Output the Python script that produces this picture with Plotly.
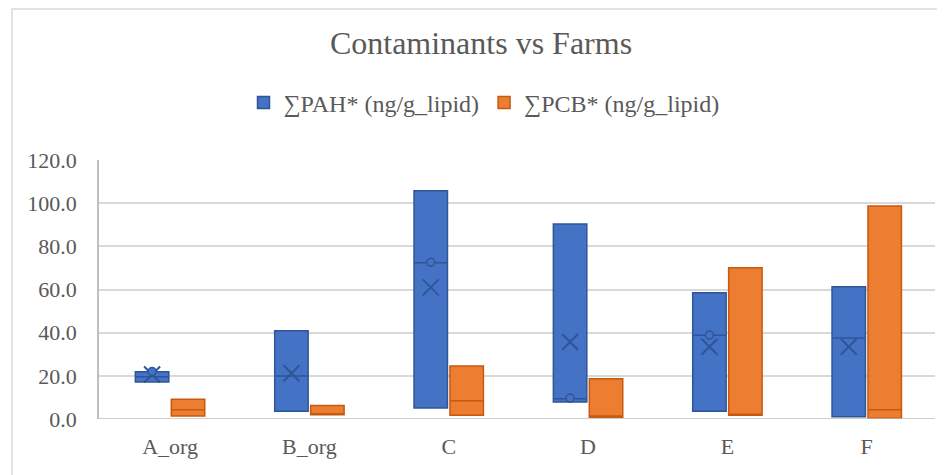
import plotly.graph_objects as go
import numpy as np

farms = ["A_org", "B_org", "C", "D", "E", "F"]
tick_vals = [0, 20, 40, 60, 80, 100, 120]
tick_text = ["0.0", "20.0", "40.0", "60.0", "80.0", "100.0", "120.0"]

# PAH box statistics (ng/g lipid)
pah_q1 = [17.1, 3.6, 5.1, 7.9, 3.6, 1.1]
pah_median = [19.6, 19.9, 72.4, 9.4, 38.8, 37.5]
pah_q3 = [21.9, 40.9, 105.8, 90.4, 58.5, 61.3]
pah_mean = [20.6, 21.2, 61.0, 35.7, 33.5, 33.5]
pah_points_x = ["A_org", "C", "D", "E"]
pah_points_y = [22.0, 72.6, 9.7, 38.9]

# PCB box statistics (ng/g lipid)
pcb_q1 = [1.4, 2.0, 1.7, 0.8, 1.7, 0.3]
pcb_median = [4.3, 2.2, 8.5, 1.4, 2.2, 4.3]
pcb_q3 = [9.1, 6.3, 24.6, 18.7, 70.1, 98.7]

blue_fill = "#4472C4"
blue_line = "#2F5597"
orange_fill = "#ED7D31"
orange_line = "#C55A11"
gray_text = "#595959"
serif = "Liberation Serif, Times New Roman, serif"

idx = np.arange(len(farms))
off = 0.129
pah_x = idx - off
pcb_x = idx + off
pt_idx = np.array([farms.index(f) for f in pah_points_x]) - off

fig = go.Figure()
fig.add_trace(go.Box(
    name="∑PAH* (ng/g_lipid)", x=pah_x, q1=pah_q1, median=pah_median, q3=pah_q3,
    lowerfence=pah_q1, upperfence=pah_q3, width=0.24, whiskerwidth=0,
    fillcolor=blue_fill, line=dict(color=blue_line, width=1.5),
    boxpoints=False, hoverinfo="skip",
))
fig.add_trace(go.Box(
    name="∑PCB* (ng/g_lipid)", x=pcb_x, q1=pcb_q1, median=pcb_median, q3=pcb_q3,
    lowerfence=pcb_q1, upperfence=pcb_q3, width=0.24, whiskerwidth=0,
    fillcolor=orange_fill, line=dict(color=orange_line, width=1.5),
    boxpoints=False, hoverinfo="skip",
))
fig.add_trace(go.Scatter(
    x=pah_x, y=pah_mean, mode="markers", showlegend=False, hoverinfo="skip",
    marker=dict(symbol="x-thin-open", size=16, line=dict(color=blue_line, width=2), color=blue_line),
))
fig.add_trace(go.Scatter(
    x=pt_idx, y=pah_points_y, mode="markers", showlegend=False, hoverinfo="skip",
    marker=dict(symbol="circle", size=8, color=blue_fill, line=dict(color=blue_line, width=1.5)),
))

# page body has an 8px margin, so the figure is 8px smaller and offset
OFF = 8
W, H = 945 - OFF, 475 - OFF
ml, mr, mt, mb = 99 - OFF, 10, 160 - OFF, 56
pw, ph = W - ml - mr, H - mt - mb
fig.add_shape(type="rect", xref="paper", yref="paper",
              x0=(12 - OFF - ml) / pw, x1=(960 - ml) / pw,
              y0=(H - mb - 490) / ph, y1=(H - mb - (9 - OFF)) / ph,
              line=dict(color="#D9D9D9", width=1.5), fillcolor="rgba(0,0,0,0)", layer="below")

fig.update_layout(
    width=W, height=H,
    margin=dict(l=ml, r=mr, t=mt, b=mb),
    paper_bgcolor="white", plot_bgcolor="white",
    font=dict(family=serif, color=gray_text, size=22),
    title=dict(text="Contaminants vs Farms", x=(481 - OFF) / W, xanchor="center",
               y=1 - (43 - OFF) / H, yanchor="middle",
               font=dict(family=serif, size=32, color=gray_text)),
    legend=dict(orientation="h", xref="container", yref="container", x=(484 - OFF) / W, xanchor="center",
                y=1 - (103 - OFF) / H, yanchor="middle", font=dict(family=serif, size=24, color=gray_text),
                itemwidth=30, tracegroupgap=0),
    xaxis=dict(range=[-0.51, 5.49], tickvals=list(idx), ticktext=farms, showgrid=False,
               zeroline=False, showline=False, ticks="", ticklabelstandoff=12,
               tickfont=dict(family=serif, size=22)),
    yaxis=dict(range=[0, 120], tickvals=tick_vals, ticktext=tick_text, showgrid=True,
               gridcolor="#D9D9D9", gridwidth=1.5, zeroline=False, showline=True,
               linecolor="#BFBFBF", linewidth=1.5, ticks="", ticklen=0, ticklabelstandoff=16,
               tickfont=dict(family=serif, size=22)),
    showlegend=True,
)
fig.add_hline(y=0, line=dict(color="#BFBFBF", width=1.5))
fig.write_html("out.html")
